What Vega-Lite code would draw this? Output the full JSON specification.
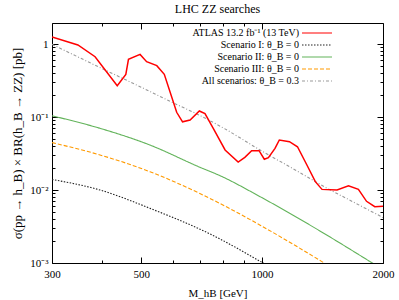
{
  "$schema": "https://vega.github.io/schema/vega-lite/v6.json",
  "width": 331,
  "height": 240,
  "autosize": "none",
  "padding": {"left": 52, "top": 23, "right": 16, "bottom": 37},
  "title": {"text": "LHC ZZ searches", "font": "Liberation Serif", "fontSize": 12, "fontWeight": "normal", "color": "black", "offset": 7},
  "config": {
    "font": "Liberation Serif",
    "view": {"stroke": "black", "strokeWidth": 1},
    "axis": {"labelFont": "Liberation Serif", "labelFontSize": 11, "labelColor": "black", "titleFont": "Liberation Serif", "titleFontSize": 11, "titleFontWeight": "normal", "titleColor": "black", "domain": false, "grid": false, "tickColor": "black", "labelFlush": false, "labelOverlap": false},
    "legend": {"orient": "none", "legendX": 259, "legendY": 4, "padding": 0, "labelFont": "Liberation Serif", "labelFontSize": 10, "labelColor": "black", "labelAlign": "right", "labelOffset": -24, "symbolType": "M-3,0H3", "symbolSize": 100, "symbolStrokeWidth": 1.2, "rowPadding": 1, "title": null}
  },
  "data": {"values": [
    {"s": "ATLAS 13.2 fb⁻¹ (13 TeV)", "m": 300, "v": 1.25},
    {"s": "ATLAS 13.2 fb⁻¹ (13 TeV)", "m": 348, "v": 0.97},
    {"s": "ATLAS 13.2 fb⁻¹ (13 TeV)", "m": 384, "v": 0.67},
    {"s": "ATLAS 13.2 fb⁻¹ (13 TeV)", "m": 436, "v": 0.268},
    {"s": "ATLAS 13.2 fb⁻¹ (13 TeV)", "m": 458, "v": 0.384},
    {"s": "ATLAS 13.2 fb⁻¹ (13 TeV)", "m": 465, "v": 0.618},
    {"s": "ATLAS 13.2 fb⁻¹ (13 TeV)", "m": 497, "v": 0.72},
    {"s": "ATLAS 13.2 fb⁻¹ (13 TeV)", "m": 516, "v": 0.572},
    {"s": "ATLAS 13.2 fb⁻¹ (13 TeV)", "m": 547, "v": 0.505},
    {"s": "ATLAS 13.2 fb⁻¹ (13 TeV)", "m": 571, "v": 0.384},
    {"s": "ATLAS 13.2 fb⁻¹ (13 TeV)", "m": 613, "v": 0.116},
    {"s": "ATLAS 13.2 fb⁻¹ (13 TeV)", "m": 634, "v": 0.086},
    {"s": "ATLAS 13.2 fb⁻¹ (13 TeV)", "m": 662, "v": 0.091},
    {"s": "ATLAS 13.2 fb⁻¹ (13 TeV)", "m": 698, "v": 0.121},
    {"s": "ATLAS 13.2 fb⁻¹ (13 TeV)", "m": 721, "v": 0.111},
    {"s": "ATLAS 13.2 fb⁻¹ (13 TeV)", "m": 756, "v": 0.070},
    {"s": "ATLAS 13.2 fb⁻¹ (13 TeV)", "m": 809, "v": 0.0354},
    {"s": "ATLAS 13.2 fb⁻¹ (13 TeV)", "m": 872, "v": 0.0241},
    {"s": "ATLAS 13.2 fb⁻¹ (13 TeV)", "m": 906, "v": 0.0280},
    {"s": "ATLAS 13.2 fb⁻¹ (13 TeV)", "m": 942, "v": 0.0346},
    {"s": "ATLAS 13.2 fb⁻¹ (13 TeV)", "m": 983, "v": 0.0346},
    {"s": "ATLAS 13.2 fb⁻¹ (13 TeV)", "m": 1013, "v": 0.0264},
    {"s": "ATLAS 13.2 fb⁻¹ (13 TeV)", "m": 1037, "v": 0.0277},
    {"s": "ATLAS 13.2 fb⁻¹ (13 TeV)", "m": 1077, "v": 0.0372},
    {"s": "ATLAS 13.2 fb⁻¹ (13 TeV)", "m": 1104, "v": 0.0484},
    {"s": "ATLAS 13.2 fb⁻¹ (13 TeV)", "m": 1170, "v": 0.0459},
    {"s": "ATLAS 13.2 fb⁻¹ (13 TeV)", "m": 1225, "v": 0.0391},
    {"s": "ATLAS 13.2 fb⁻¹ (13 TeV)", "m": 1293, "v": 0.0220},
    {"s": "ATLAS 13.2 fb⁻¹ (13 TeV)", "m": 1357, "v": 0.0130},
    {"s": "ATLAS 13.2 fb⁻¹ (13 TeV)", "m": 1410, "v": 0.0102},
    {"s": "ATLAS 13.2 fb⁻¹ (13 TeV)", "m": 1537, "v": 0.0100},
    {"s": "ATLAS 13.2 fb⁻¹ (13 TeV)", "m": 1641, "v": 0.0114},
    {"s": "ATLAS 13.2 fb⁻¹ (13 TeV)", "m": 1737, "v": 0.0102},
    {"s": "ATLAS 13.2 fb⁻¹ (13 TeV)", "m": 1820, "v": 0.0070},
    {"s": "ATLAS 13.2 fb⁻¹ (13 TeV)", "m": 1908, "v": 0.0059},
    {"s": "ATLAS 13.2 fb⁻¹ (13 TeV)", "m": 2000, "v": 0.0060},
    {"s": "Scenario I: θ_B = 0", "m": 300, "v": 0.01395},
    {"s": "Scenario I: θ_B = 0", "m": 395, "v": 0.0100},
    {"s": "Scenario I: θ_B = 0", "m": 526, "v": 0.00561},
    {"s": "Scenario I: θ_B = 0", "m": 742, "v": 0.0025},
    {"s": "Scenario I: θ_B = 0", "m": 1006, "v": 0.001},
    {"s": "Scenario I: θ_B = 0", "m": 1400, "v": 0.000336},
    {"s": "Scenario I: θ_B = 0", "m": 2000, "v": 0.0001},
    {"s": "Scenario II: θ_B = 0", "m": 300, "v": 0.104},
    {"s": "Scenario II: θ_B = 0", "m": 395, "v": 0.070},
    {"s": "Scenario II: θ_B = 0", "m": 526, "v": 0.0413},
    {"s": "Scenario II: θ_B = 0", "m": 700, "v": 0.0205},
    {"s": "Scenario II: θ_B = 0", "m": 786, "v": 0.0157},
    {"s": "Scenario II: θ_B = 0", "m": 989, "v": 0.0081},
    {"s": "Scenario II: θ_B = 0", "m": 1317, "v": 0.0033},
    {"s": "Scenario II: θ_B = 0", "m": 1881, "v": 0.001},
    {"s": "Scenario II: θ_B = 0", "m": 2000, "v": 0.00081},
    {"s": "Scenario III: θ_B = 0", "m": 300, "v": 0.0446},
    {"s": "Scenario III: θ_B = 0", "m": 395, "v": 0.0302},
    {"s": "Scenario III: θ_B = 0", "m": 526, "v": 0.0178},
    {"s": "Scenario III: θ_B = 0", "m": 700, "v": 0.00896},
    {"s": "Scenario III: θ_B = 0", "m": 989, "v": 0.0033},
    {"s": "Scenario III: θ_B = 0", "m": 1200, "v": 0.00178},
    {"s": "Scenario III: θ_B = 0", "m": 1428, "v": 0.001},
    {"s": "Scenario III: θ_B = 0", "m": 2000, "v": 0.00032},
    {"s": "All scenarios: θ_B = 0.3", "m": 300, "v": 0.99},
    {"s": "All scenarios: θ_B = 0.3", "m": 400, "v": 0.46},
    {"s": "All scenarios: θ_B = 0.3", "m": 500, "v": 0.256},
    {"s": "All scenarios: θ_B = 0.3", "m": 600, "v": 0.157},
    {"s": "All scenarios: θ_B = 0.3", "m": 700, "v": 0.105},
    {"s": "All scenarios: θ_B = 0.3", "m": 800, "v": 0.071},
    {"s": "All scenarios: θ_B = 0.3", "m": 1000, "v": 0.034},
    {"s": "All scenarios: θ_B = 0.3", "m": 1200, "v": 0.0193},
    {"s": "All scenarios: θ_B = 0.3", "m": 1400, "v": 0.0118},
    {"s": "All scenarios: θ_B = 0.3", "m": 1700, "v": 0.0067},
    {"s": "All scenarios: θ_B = 0.3", "m": 2000, "v": 0.0042}
  ]},
  "encoding": {
    "x": {"field": "m", "type": "quantitative", "scale": {"type": "log", "domain": [300, 2000], "nice": false}},
    "y": {"field": "v", "type": "quantitative", "scale": {"type": "log", "domain": [0.001, 1.94], "nice": false}}
  },
  "layer": [
    {
      "transform": [{"filter": "datum.s != 'ATLAS 13.2 fb⁻¹ (13 TeV)'"}],
      "mark": {"type": "line", "clip": true, "interpolate": "monotone", "strokeWidth": 1.1},
      "encoding": {
        "x": {"field": "m", "type": "quantitative", "title": "M_hB [GeV]",
          "axis": {"orient": "bottom", "values": [300, 400, 500, 600, 700, 800, 900, 1000, 2000],
            "labelExpr": "indexof([300,500,1000,2000], datum.value) >= 0 ? datum.value + '' : ''",
            "tickSize": {"condition": {"test": "indexof([300,500,1000,2000], datum.value) >= 0", "value": -6}, "value": -3},
            "labelPadding": 11, "titlePadding": 5, "labelFont": "Liberation Serif", "titleFont": "Liberation Serif"}},
        "y": {"field": "v", "type": "quantitative", "title": "σ(pp → h_B) × BR(h_B → ZZ) [pb]",
          "axis": {"orient": "left",
            "values": [0.001, 0.002, 0.003, 0.004, 0.005, 0.006, 0.007, 0.008, 0.009, 0.01, 0.02, 0.03, 0.04, 0.05, 0.06, 0.07, 0.08, 0.09, 0.1, 0.2, 0.3, 0.4, 0.5, 0.6, 0.7, 0.8, 0.9, 1],
            "labelExpr": "datum.value == 1 ? '1' : datum.value == 0.1 ? '10⁻¹' : datum.value == 0.01 ? '10⁻²' : datum.value == 0.001 ? '10⁻³' : ''",
            "tickSize": {"condition": {"test": "indexof([0.001,0.01,0.1,1], datum.value) >= 0", "value": -6}, "value": -3},
            "labelPadding": 10, "titlePadding": 5, "titleFontSize": 13, "labelFont": "Liberation Serif", "titleFont": "Liberation Serif"}},
        "color": {"field": "s", "type": "nominal",
          "scale": {"domain": ["ATLAS 13.2 fb⁻¹ (13 TeV)", "Scenario I: θ_B = 0", "Scenario II: θ_B = 0", "Scenario III: θ_B = 0", "All scenarios: θ_B = 0.3"],
                    "range": ["#ff0000", "#222222", "#62b35a", "#ff9a00", "#999999"]},
          "legend": {"labelFont": "Liberation Serif"}},
        "strokeDash": {"field": "s", "type": "nominal",
          "scale": {"domain": ["ATLAS 13.2 fb⁻¹ (13 TeV)", "Scenario I: θ_B = 0", "Scenario II: θ_B = 0", "Scenario III: θ_B = 0", "All scenarios: θ_B = 0.3"],
                    "range": [[1, 0], [1.5, 1.5], [1, 0], [4, 2], [3, 2, 1, 2]]}}
      }
    },
    {
      "transform": [{"filter": "datum.s == 'ATLAS 13.2 fb⁻¹ (13 TeV)'"}],
      "mark": {"type": "line", "clip": true, "color": "#ff0000", "strokeWidth": 1.5},
      "encoding": {
        "x": {"field": "m", "type": "quantitative",
          "axis": {"orient": "top", "title": null, "labels": false, "values": [300, 400, 500, 600, 700, 800, 900, 1000, 2000],
            "tickSize": {"condition": {"test": "indexof([300,500,1000,2000], datum.value) >= 0", "value": -6}, "value": -3}}},
        "y": {"field": "v", "type": "quantitative",
          "axis": {"orient": "right", "title": null, "labels": false,
            "values": [0.001, 0.002, 0.003, 0.004, 0.005, 0.006, 0.007, 0.008, 0.009, 0.01, 0.02, 0.03, 0.04, 0.05, 0.06, 0.07, 0.08, 0.09, 0.1, 0.2, 0.3, 0.4, 0.5, 0.6, 0.7, 0.8, 0.9, 1],
            "tickSize": {"condition": {"test": "indexof([0.001,0.01,0.1,1], datum.value) >= 0", "value": -6}, "value": -3}}}
      }
    }
  ],
  "resolve": {"axis": {"x": "independent", "y": "independent"}}
}
